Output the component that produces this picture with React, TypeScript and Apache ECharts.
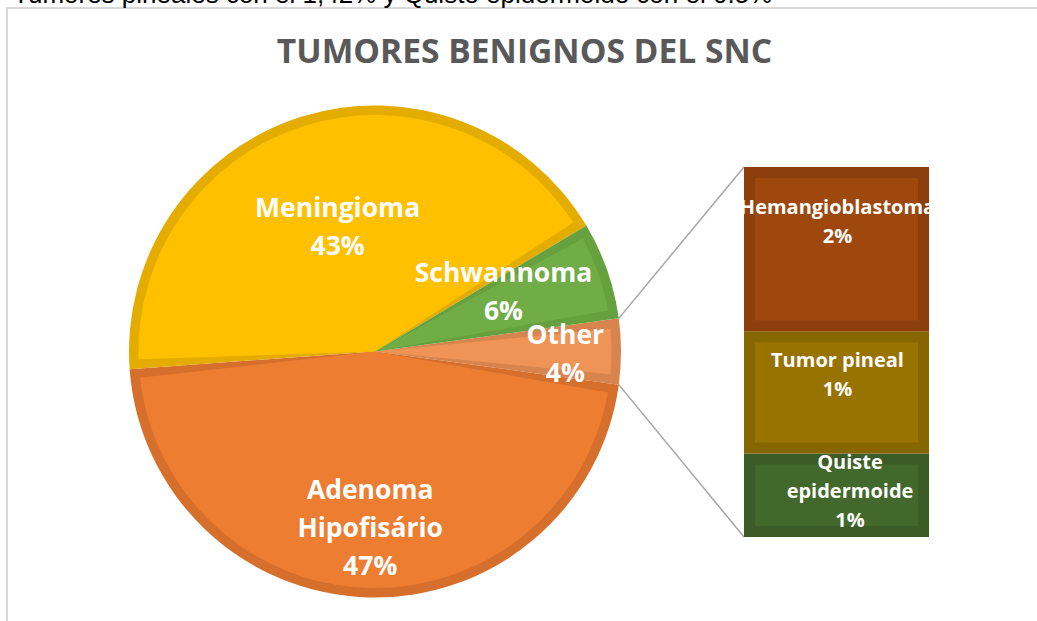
import React, { useEffect, useRef } from 'react';
import * as echarts from 'echarts';

const TITLE = 'TUMORES BENIGNOS DEL SNC';
const NOTE = 'Tumores pineales con el 1,42% y Quiste epidermoide con el 0.5%';

// Pie (main) data — "Other" is the slice that is expanded into the bar
const pieNames = ['Other', 'Adenoma Hipofisário', 'Meningioma', 'Schwannoma'];
const pieValues = [4.3, 46.7, 42.6, 6.4];
const pieFill = ['#EF9357', '#ED7D31', '#FFC000', '#70AD47'];
const pieEdge = ['#D8844F', '#D56F2B', '#E5AC00', '#66A03F'];

// Bar (secondary) data, top to bottom
const barNames = ['Hemangioblastoma', 'Tumor pineal', 'Quiste epidermoide'];
const barValues = [1.91, 1.42, 0.97];
const barFill = ['#9E480E', '#997300', '#43682B'];
const barEdge = ['#8C3F0C', '#876600', '#3B5C26'];

// layout
const CX = 375;
const CY = 351.5;
const R = 246;
const BEVEL = 9.5;
const BAR = { left: 744, top: 167, width: 185, height: 370 };
const BAR_BEVEL = 11;
const pieLabelShift = [[69, 1.5], [-1, 54], [-1, -9.5], [14, -21]];
const barLabelShift = [[1, -28], [1, -18.5], [13.5, -4.5]];

const wrap = (s: string) => (s.length > 14 ? s.replace(' ', '\n') : s);

export default function App() {
  const ref = useRef<HTMLDivElement>(null);
  useEffect(() => {
    if (!ref.current) return;
    const chart = echarts.init(ref.current, null, { renderer: 'svg' });
    const total = pieValues.reduce((a, b) => a + b, 0);
    const barTotal = barValues.reduce((a, b) => a + b, 0);
    const half = (pieValues[0] / total) * Math.PI;
    const startAngle = (pieValues[0] / total) * 180;
    const pTop = [CX + R * Math.cos(half), CY - R * Math.sin(half)];
    const pBot = [CX + R * Math.cos(half), CY + R * Math.sin(half)];

    let acc = 0;
    const barData = barNames
      .map((_, i) => i)
      .reverse()
      .map((i) => {
        const s = acc;
        acc += barValues[i];
        return [0, s, acc, i];
      });

    chart.setOption({
      animation: false,
      backgroundColor: '#ffffff',
      grid: { left: BAR.left, top: BAR.top, width: BAR.width, height: BAR.height },
      xAxis: { type: 'category', data: ['Other'], show: false, boundaryGap: true },
      yAxis: { type: 'value', min: 0, max: barTotal, show: false },
      graphic: [
        {
          type: 'rect',
          shape: { x: 7, y: 8, width: 1100, height: 700 },
          style: { fill: 'none', stroke: '#D9D9D9', lineWidth: 2 },
          silent: true,
        },
        {
          type: 'text',
          x: 13,
          y: -5.9,
          style: {
            text: NOTE,
            font: '26px "Liberation Sans", Arial, sans-serif',
            fill: '#000000',
            align: 'left',
            verticalAlign: 'middle',
          },
        },
        {
          type: 'text',
          x: 524.5,
          y: 50,
          style: {
            text: TITLE,
            font: 'bold 33.6px "Open Sans", sans-serif',
            fill: '#595959',
            align: 'center',
            verticalAlign: 'middle',
          },
        },
        {
          type: 'line',
          shape: { x1: pTop[0], y1: pTop[1], x2: BAR.left, y2: BAR.top },
          style: { stroke: '#A6A6A6', lineWidth: 1.5 },
          z: -1,
        },
        {
          type: 'line',
          shape: { x1: pBot[0], y1: pBot[1], x2: BAR.left, y2: BAR.top + BAR.height },
          style: { stroke: '#A6A6A6', lineWidth: 1.5 },
          z: -1,
        },
      ],
      series: [
        {
          type: 'pie',
          center: [CX, CY],
          radius: R,
          startAngle,
          clockwise: true,
          silent: true,
          label: { show: false },
          labelLine: { show: false },
          emphasis: { disabled: true },
          data: pieNames.map((n, i) => ({ name: n, value: pieValues[i], itemStyle: { color: pieEdge[i] } })),
        },
        {
          type: 'pie',
          center: [CX, CY],
          radius: R - BEVEL,
          startAngle,
          clockwise: true,
          padAngle: 4.5,
          silent: true,
          emphasis: { disabled: true },
          labelLine: { show: false },
          label: {
            show: true,
            position: 'inside',
            formatter: (p: any) => `${wrap(p.name)}\n${Math.round(p.percent)}%`,
            color: '#ffffff',
            fontFamily: '"Open Sans", sans-serif',
            fontWeight: 'bold',
            fontSize: 26.5,
            lineHeight: 38,
          },
          labelLayout: (params: any) => {
            const s = pieLabelShift[params.dataIndex] || [0, 0];
            return { dx: s[0], dy: s[1] };
          },
          data: pieNames.map((n, i) => ({ name: n, value: pieValues[i], itemStyle: { color: pieFill[i] } })),
        },
        {
          type: 'custom',
          coordinateSystem: 'cartesian2d',
          silent: true,
          encode: { x: 0, y: [1, 2] },
          data: barData,
          renderItem: (params: any, api: any) => {
            const i = api.value(3);
            const lo = api.coord([0, api.value(1)]);
            const hi = api.coord([0, api.value(2)]);
            const w = api.size([1, 0])[0];
            const x = lo[0] - w / 2;
            const y = hi[1];
            const h = lo[1] - hi[1];
            const shift = barLabelShift[i];
            const pct = Math.round((barValues[i] / total) * 100);
            return {
              type: 'group',
              children: [
                { type: 'rect', shape: { x, y, width: w, height: h }, style: { fill: barEdge[i] } },
                {
                  type: 'rect',
                  shape: { x: x + BAR_BEVEL, y: y + BAR_BEVEL, width: w - 2 * BAR_BEVEL, height: h - 2 * BAR_BEVEL },
                  style: { fill: barFill[i] },
                },
                {
                  type: 'text',
                  x: lo[0] + shift[0],
                  y: y + h / 2 + shift[1],
                  style: {
                    text: `${wrap(barNames[i])}\n${pct}%`,
                    fill: '#ffffff',
                    fontFamily: '"Open Sans", sans-serif',
                    fontWeight: 'bold',
                    fontSize: 20,
                    lineHeight: 29,
                    align: 'center',
                    verticalAlign: 'middle',
                  },
                },
              ],
            };
          },
        },
      ],
    });
    return () => chart.dispose();
  }, []);
  return (
    <div
      ref={ref}
      style={{ position: 'fixed', left: 0, top: 0, width: 1037, height: 621 }}
    />
  );
}
